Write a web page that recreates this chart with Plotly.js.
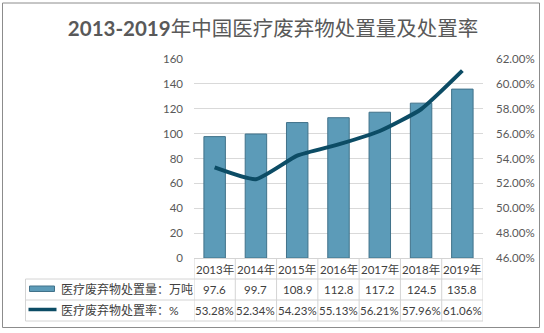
<!DOCTYPE html>
<html><head><meta charset="utf-8">
<script src="https://cdn.plot.ly/plotly-3.0.1.min.js"></script>
<style>html,body{margin:0;padding:0;background:#fff}#chart{width:544px;height:333px}</style>
</head><body><div id="chart"></div>
<script>
const years = ['2013年','2014年','2015年','2016年','2017年','2018年','2019年'];
const volume = [97.6, 99.7, 108.9, 112.8, 117.2, 124.5, 135.8];
const rate = [53.28, 52.34, 54.23, 55.13, 56.21, 57.96, 61.06];
const volumeName = '医疗废弃物处置量：万吨';
const rateName = '医疗废弃物处置率：%';
const titleText = '2013-2019年中国医疗废弃物处置量及处置率';
const leftTicks = [0, 20, 40, 60, 80, 100, 120, 140, 160];
const rightTicks = [46, 48, 50, 52, 54, 56, 58, 60, 62];

const W = 544, H = 333, L = 194, R = 61, T = 59, B = 75;
const pw = W - L - R, ph = H - T - B;
const px = x => (x - L) / pw;
const py = y => (H - B - y) / ph;

const barColor = '#5c9bb8', barLine = '#41728a', lineColor = '#0c4c65';
const gridColor = '#d9d9d9', tableLine = '#d4d4d4';
const fontFam = 'Lato, "Noto Sans CJK SC", sans-serif';

const traces = [
  {type: 'bar', x: years, y: volume, name: volumeName, yaxis: 'y',
   marker: {color: barColor, line: {color: barLine, width: 1}}, showlegend: false, hoverinfo: 'skip'},
  {type: 'scatter', mode: 'lines', x: years, y: rate.map(v => v / 100), name: rateName, yaxis: 'y2',
   line: {color: lineColor, width: 4, shape: 'spline', smoothing: 0.5}, showlegend: false, hoverinfo: 'skip'}
];

const shapes = [];
const annotations = [];
// table grid
[279, 300, 321].forEach(y => shapes.push({type: 'line', xref: 'paper', yref: 'paper',
  x0: px(25.5), x1: 1, y0: py(y), y1: py(y), line: {color: tableLine, width: 1}}));
shapes.push({type: 'line', xref: 'paper', yref: 'paper', x0: px(25.5), x1: px(25.5),
  y0: py(279), y1: py(321), line: {color: tableLine, width: 1}});
for (let i = 0; i <= years.length; i++) {
  shapes.push({type: 'line', xref: 'x', yref: 'paper', x0: i - 0.5, x1: i - 0.5,
    y0: py(258), y1: py(321), line: {color: tableLine, width: 1}});
}
// legend keys
shapes.push({type: 'rect', xref: 'paper', yref: 'paper', x0: px(29.5), x1: px(54.5),
  y0: py(286), y1: py(291.5), fillcolor: barColor, line: {color: barLine, width: 1}});
shapes.push({type: 'line', xref: 'paper', yref: 'paper', x0: px(28.5), x1: px(56.5),
  y0: py(309.5), y1: py(309.5), line: {color: lineColor, width: 3.5}});
// outer border
shapes.push({type: 'rect', xref: 'paper', yref: 'paper', x0: px(2.5), x1: px(539.5),
  y0: py(3), y1: py(327.5), line: {color: '#8c8c8c', width: 1}, fillcolor: 'rgba(0,0,0,0)', layer: 'below'});

const tf = {family: fontFam, size: 11.5, color: '#404040'};
years.forEach((yr, i) => {
  annotations.push({xref: 'x', yref: 'paper', x: yr, y: py(269), text: yr, showarrow: false,
    xanchor: 'center', yanchor: 'middle', font: tf});
  annotations.push({xref: 'x', yref: 'paper', x: yr, y: py(289.5), text: volume[i].toFixed(1), showarrow: false,
    xanchor: 'center', yanchor: 'middle', font: tf});
  annotations.push({xref: 'x', yref: 'paper', x: yr, y: py(310.5), text: rate[i].toFixed(2) + '%', showarrow: false,
    xanchor: 'center', yanchor: 'middle', font: tf});
});
annotations.push({xref: 'paper', yref: 'paper', x: px(58.5), y: py(289.5), text: volumeName, showarrow: false,
  xanchor: 'left', yanchor: 'middle', font: {family: fontFam, size: 12, color: '#404040'}});
annotations.push({xref: 'paper', yref: 'paper', x: px(58.5), y: py(310.5), text: rateName, showarrow: false,
  xanchor: 'left', yanchor: 'middle', font: {family: fontFam, size: 12, color: '#404040'}});

const layout = {
  width: W, height: H,
  margin: {l: L, r: R, t: T, b: B, pad: 0},
  paper_bgcolor: '#fff', plot_bgcolor: '#fff',
  title: {text: '<b>' + titleText.slice(0, 9) + '</b>' + titleText.slice(9),
    x: 273 / W, xref: 'container', xanchor: 'center', y: 1 - 29 / H, yref: 'container', yanchor: 'middle',
    font: {family: fontFam, size: 20.5, color: '#595959'}},
  bargap: 0.48,
  xaxis: {type: 'category', range: [-0.5, 6.5], showticklabels: false, showgrid: false,
    showline: true, linecolor: tableLine, linewidth: 1, ticks: '', zeroline: false, fixedrange: true},
  yaxis: {range: [0, 160], tickvals: leftTicks, ticktext: leftTicks.map(String), showgrid: true, gridcolor: gridColor,
    gridwidth: 1, zeroline: false, showline: false, ticks: '', ticklabelstandoff: 10,
    tickfont: {family: fontFam, size: 11.5, color: '#595959'}},
  yaxis2: {range: [0.46, 0.62], overlaying: 'y', side: 'right', tickvals: rightTicks.map(v => v / 100),
    tickformat: '.2%', showgrid: false, zeroline: false, showline: false, ticks: '', ticklabelstandoff: 12,
    tickfont: {family: fontFam, size: 11.5, color: '#595959'}},
  shapes: shapes, annotations: annotations
};
Plotly.newPlot('chart', traces, layout, {displayModeBar: false, staticPlot: true});
</script></body></html>
